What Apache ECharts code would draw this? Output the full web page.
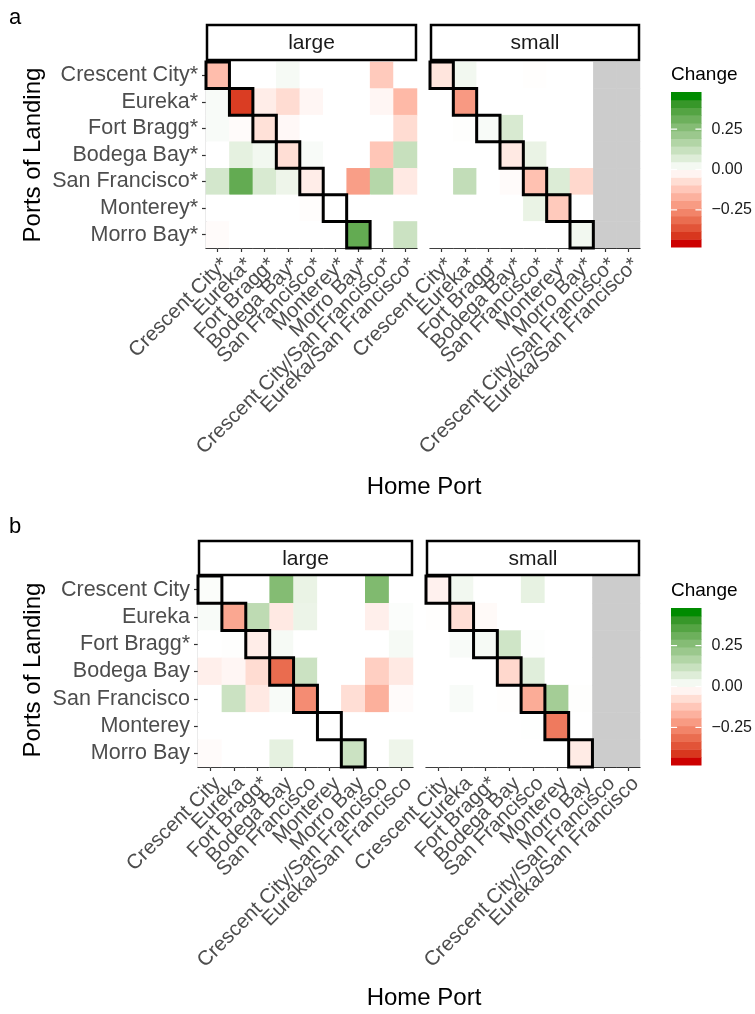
<!DOCTYPE html>
<html>
<head>
<meta charset="utf-8">
<script src="https://cdn.jsdelivr.net/npm/echarts@6/dist/echarts.min.js"></script>
<style>
  html, body { margin: 0; padding: 0; background: #fff; }
  #chart { width: 755px; height: 1014px; }
</style>
</head>
<body>
<div id="chart"></div>
<script>
// ---- data ----
const rowsA = ['Crescent City*', 'Eureka*', 'Fort Bragg*', 'Bodega Bay*', 'San Francisco*', 'Monterey*', 'Morro Bay*'];
const colsA = ['Crescent City*', 'Eureka*', 'Fort Bragg*', 'Bodega Bay*', 'San Francisco*', 'Monterey*', 'Morro Bay*',
  'Crescent City/San Francisco*', 'Eureka/San Francisco*'];
const rowsB = ['Crescent City', 'Eureka', 'Fort Bragg*', 'Bodega Bay', 'San Francisco', 'Monterey', 'Morro Bay'];
const colsB = ['Crescent City', 'Eureka', 'Fort Bragg*', 'Bodega Bay', 'San Francisco', 'Monterey', 'Morro Bay',
  'Crescent City/San Francisco', 'Eureka/San Francisco'];

// rows = port of landing, columns = home port; null = no data (grey)
const aLarge = [
  [-0.15, 0, 0, 0.02, 0, 0, 0, -0.12, 0],
  [0.015, -0.42, -0.04, -0.08, -0.02, 0, 0, -0.02, -0.16],
  [0.015, -0.01, -0.07, -0.015, 0, 0, 0, 0, -0.08],
  [0, 0.06, 0.03, -0.075, 0.015, 0, 0, -0.13, 0.13],
  [0.1, 0.35, 0.09, 0.04, -0.04, 0, -0.22, 0.17, -0.05],
  [0, 0, 0, 0, -0.005, 0, 0, 0, 0],
  [-0.01, 0, 0, 0, 0, 0, 0.35, 0, 0.12]
];
const aSmall = [
  [-0.06, 0.03, 0, 0, -0.003, 0, 0, null, null],
  [0, -0.23, 0, 0, 0, 0, 0, null, null],
  [0, 0.003, 0.015, 0.09, 0, 0, 0, null, null],
  [0, 0, 0, -0.05, 0.05, 0, 0, null, null],
  [0, 0.14, 0, -0.01, -0.14, 0.08, -0.09, null, null],
  [0, 0, 0, 0, 0.05, -0.12, 0, null, null],
  [0, 0, 0, 0, 0, 0, 0.03, null, null]
];
const bLarge = [
  [0.01, 0, 0, 0.28, 0.05, 0, 0, 0.29, 0],
  [0.015, -0.2, 0.15, -0.05, 0.045, 0, 0, -0.035, 0.008],
  [0, 0.003, -0.04, 0.02, 0, 0, 0, 0, 0.02],
  [-0.035, -0.02, -0.08, -0.33, 0.12, 0, 0, -0.11, -0.05],
  [0, 0.12, -0.05, 0.015, -0.26, 0, -0.075, -0.18, -0.01],
  [0, 0, 0, 0, 0, 0, 0, 0, 0],
  [-0.01, 0, 0, 0.06, 0, 0, 0.12, 0, 0.04]
];
const bSmall = [
  [-0.03, 0.03, 0, 0, 0.055, 0, 0, null, null],
  [-0.003, -0.075, -0.012, 0, 0, 0, 0, null, null],
  [0, 0.015, 0.02, 0.11, 0.005, 0, 0, null, null],
  [0, 0, 0, -0.09, 0.07, 0, 0, null, null],
  [0, 0.015, 0, -0.003, -0.19, 0.21, 0.003, null, null],
  [0, 0, 0, 0, 0.002, -0.3, 0, null, null],
  [0, 0, 0, 0, 0, 0, -0.045, null, null]
];
const diagonal = [0, 1, 2, 3, 4, 5, 6];
const legendTicks = [0.25, 0, -0.25];
const LIM = 0.48;
const NBIN = 20;

// ---- colour scale: white mid, red3 low, green4 high, Lab interpolation ----
const FONT = '"Liberation Sans", Arial, Helvetica, sans-serif';
function toLin(c) { c /= 255; return c <= 0.04045 ? c / 12.92 : Math.pow((c + 0.055) / 1.055, 2.4); }
function toSrgb(c) {
  c = c <= 0.0031308 ? 12.92 * c : 1.055 * Math.pow(c, 1 / 2.4) - 0.055;
  return Math.round(Math.max(0, Math.min(1, c)) * 255);
}
function hexToLab(hex) {
  const r = toLin(parseInt(hex.slice(1, 3), 16)), g = toLin(parseInt(hex.slice(3, 5), 16)), b = toLin(parseInt(hex.slice(5, 7), 16));
  const f = t => t > 0.008856 ? Math.cbrt(t) : 7.787 * t + 16 / 116;
  const fx = f((0.4124 * r + 0.3576 * g + 0.1805 * b) / 0.95047);
  const fy = f(0.2126 * r + 0.7152 * g + 0.0722 * b);
  const fz = f((0.0193 * r + 0.1192 * g + 0.9505 * b) / 1.08883);
  return [116 * fy - 16, 500 * (fx - fy), 200 * (fy - fz)];
}
function labToHex(lab) {
  const fy = (lab[0] + 16) / 116, fx = fy + lab[1] / 500, fz = fy - lab[2] / 200;
  const inv = t => t > 0.206893 ? t * t * t : (t - 16 / 116) / 7.787;
  const X = inv(fx) * 0.95047, Y = inv(fy), Z = inv(fz) * 1.08883;
  const r = 3.2406 * X - 1.5372 * Y - 0.4986 * Z;
  const g = -0.9689 * X + 1.8758 * Y + 0.0415 * Z;
  const b = 0.0557 * X - 0.2040 * Y + 1.0570 * Z;
  return '#' + [r, g, b].map(v => toSrgb(v).toString(16).padStart(2, '0')).join('');
}
const LOW = hexToLab('#CD0000'), MID = hexToLab('#FFFFFF'), HIGH = hexToLab('#008B00');
function colorAt(v) {
  const t = Math.max(-1, Math.min(1, v / LIM));
  const end = t < 0 ? LOW : HIGH, k = Math.abs(t);
  return labToHex(MID.map((m, i) => m + (end[i] - m) * k));
}
const scaleColors = [];
for (let i = 0; i <= 48; i++) scaleColors.push(colorAt(-LIM + i * 2 * LIM / 48));

// ---- helpers ----
function cells(mat) {
  const out = [];
  mat.forEach((row, r) => row.forEach((v, c) => { if (v !== null) out.push([c, r, v]); }));
  return out;
}
function naCells(mat) {
  const out = [];
  mat.forEach((row, r) => row.forEach((v, c) => { if (v === null) out.push([c, r, 0]); }));
  return out;
}
const bands = [];
for (let i = 0; i < NBIN; i++) {
  bands.push([-LIM + i * 2 * LIM / NBIN, -LIM + (i + 1) * 2 * LIM / NBIN, -LIM + i * 2 * LIM / (NBIN - 1)]);
}

const panels = [
  { left: 206, top: 62, width: 211, height: 186, cols: colsA, rows: rowsA, showY: true },
  { left: 430, top: 62, width: 210, height: 186, cols: colsA, rows: rowsA, showY: false },
  { left: 198, top: 576, width: 215, height: 191, cols: colsB, rows: rowsB, showY: true },
  { left: 426, top: 576, width: 214, height: 191, cols: colsB, rows: rowsB, showY: false }
];
const bars = [
  { left: 671, top: 92, width: 32, height: 155 },
  { left: 671, top: 608, width: 32, height: 157 }
];

const grid = panels.map(p => ({ left: p.left, top: p.top, width: p.width, height: p.height }))
  .concat(bars.map(b => ({ left: b.left, top: b.top, width: b.width, height: b.height })));

const xAxis = panels.map((p, i) => ({
  type: 'category', gridIndex: i, data: p.cols,
  axisLine: { show: true, lineStyle: { color: '#000', width: 1.2 } },
  axisTick: { show: true, alignWithLabel: true, length: 4, lineStyle: { color: '#333', width: 1.2 } },
  axisLabel: {
    interval: 0, rotate: 45, margin: 6, align: 'right', verticalAlign: 'top',
    fontSize: 20.5, color: '#4D4D4D', fontFamily: FONT
  },
  splitLine: { show: false }
})).concat(bars.map((b, i) => ({ type: 'value', gridIndex: 4 + i, min: 0, max: 1, show: false })));

const yAxis = panels.map((p, i) => ({
  type: 'category', gridIndex: i, data: p.rows, inverse: true,
  axisLine: { show: p.showY, lineStyle: { color: '#000', width: 1.2 } },
  axisTick: { show: p.showY, alignWithLabel: true, length: 4, lineStyle: { color: '#333', width: 1.2 } },
  axisLabel: { show: p.showY, interval: 0, margin: 8, fontSize: 21.5, color: '#4D4D4D', fontFamily: FONT },
  splitLine: { show: false }
})).concat(bars.map((b, i) => ({
  type: 'value', gridIndex: 4 + i, min: -LIM, max: LIM, position: 'right',
  axisLine: { show: false }, axisTick: { show: false }, splitLine: { show: false },
  axisLabel: {
    show: true, customValues: legendTicks, margin: 10, fontSize: 16, color: '#1A1A1A', fontFamily: FONT,
    formatter: v => (v < 0 ? '\u2212' : '') + Math.abs(v).toFixed(2)
  }
})));

const mats = [aLarge, aSmall, bLarge, bSmall];
const series = [];
mats.forEach((m, i) => series.push({
  type: 'heatmap', xAxisIndex: i, yAxisIndex: i, data: cells(m), z: 1
}));
[1, 3].forEach(i => series.push({
  type: 'heatmap', xAxisIndex: i, yAxisIndex: i, data: naCells(mats[i]), itemStyle: { color: '#CCCCCC' }, z: 1
}));
mats.forEach((m, i) => series.push({
  type: 'custom', xAxisIndex: i, yAxisIndex: i, z: 5, clip: false,
  data: diagonal.map(d => [d, d]),
  renderItem: (params, api) => {
    const c = api.coord([api.value(0), api.value(1)]);
    const s = api.size([1, 1]);
    return {
      type: 'rect',
      shape: { x: c[0] - s[0] / 2, y: c[1] - s[1] / 2, width: s[0], height: s[1] },
      style: { fill: 'none', stroke: '#000', lineWidth: 3 }
    };
  }
}));
bars.forEach((b, i) => {
  series.push({
    type: 'custom', xAxisIndex: 4 + i, yAxisIndex: 4 + i, z: 2, data: bands,
    renderItem: (params, api) => {
      const p1 = api.coord([0, api.value(1)]);
      const p2 = api.coord([1, api.value(0)]);
      return {
        type: 'rect',
        shape: { x: p1[0], y: p1[1], width: p2[0] - p1[0], height: p2[1] - p1[1] + 0.5 },
        style: { fill: colorAt(api.value(2)) }
      };
    }
  });
  series.push({
    type: 'custom', xAxisIndex: 4 + i, yAxisIndex: 4 + i, z: 3, data: legendTicks.map(v => [v]),
    renderItem: (params, api) => {
      const l = api.coord([0, api.value(0)]);
      const r = api.coord([1, api.value(0)]);
      const w = (r[0] - l[0]) / 5;
      return {
        type: 'group', children: [
          { type: 'line', shape: { x1: l[0], y1: l[1], x2: l[0] + w, y2: l[1] }, style: { stroke: '#fff', lineWidth: 1.2 } },
          { type: 'line', shape: { x1: r[0] - w, y1: r[1], x2: r[0], y2: r[1] }, style: { stroke: '#fff', lineWidth: 1.2 } }
        ]
      };
    }
  });
});

// strips, titles, panel tags
const graphic = [];
const strips = [
  { x: 207, y: 25, w: 209, h: 35, t: 'large' },
  { x: 431, y: 25, w: 208, h: 35, t: 'small' },
  { x: 199, y: 541, w: 213, h: 34, t: 'large' },
  { x: 427, y: 541, w: 212, h: 34, t: 'small' }
];
strips.forEach(s => {
  graphic.push({ type: 'rect', shape: { x: s.x, y: s.y, width: s.w, height: s.h }, style: { fill: '#fff', stroke: '#000', lineWidth: 2.5 }, z: 10 });
  graphic.push({ type: 'text', x: s.x + s.w / 2, y: s.y + s.h / 2 + 1, z: 11,
    style: { text: s.t, fill: '#1A1A1A', font: '21px ' + FONT, textAlign: 'center', textVerticalAlign: 'middle' } });
});
[
  { t: 'a', y: 18 }, { t: 'b', y: 527 }
].forEach(p => graphic.push({ type: 'text', x: 9, y: p.y, style: { text: p.t, fill: '#000', font: '22px ' + FONT, textVerticalAlign: 'middle' } }));
[155, 670].forEach(cy => graphic.push({
  type: 'text', x: 33, y: cy, rotation: Math.PI / 2,
  style: { text: 'Ports of Landing', fill: '#000', font: '24px ' + FONT, textAlign: 'center', textVerticalAlign: 'middle' }
}));
[487, 998].forEach(cy => graphic.push({
  type: 'text', x: 424, y: cy,
  style: { text: 'Home Port', fill: '#000', font: '24px ' + FONT, textAlign: 'center', textVerticalAlign: 'middle' }
}));
[75, 591].forEach(cy => graphic.push({
  type: 'text', x: 671, y: cy,
  style: { text: 'Change', fill: '#000', font: '19px ' + FONT, textVerticalAlign: 'middle' }
}));

const chart = echarts.init(document.getElementById('chart'), null, { renderer: 'canvas' });
chart.setOption({
  animation: false,
  backgroundColor: '#fff',
  grid, xAxis, yAxis, series, graphic,
  visualMap: {
    type: 'continuous', show: false, min: -LIM, max: LIM, seriesIndex: [0, 1, 2, 3],
    inRange: { color: scaleColors }
  }
});
</script>
</body>
</html>
